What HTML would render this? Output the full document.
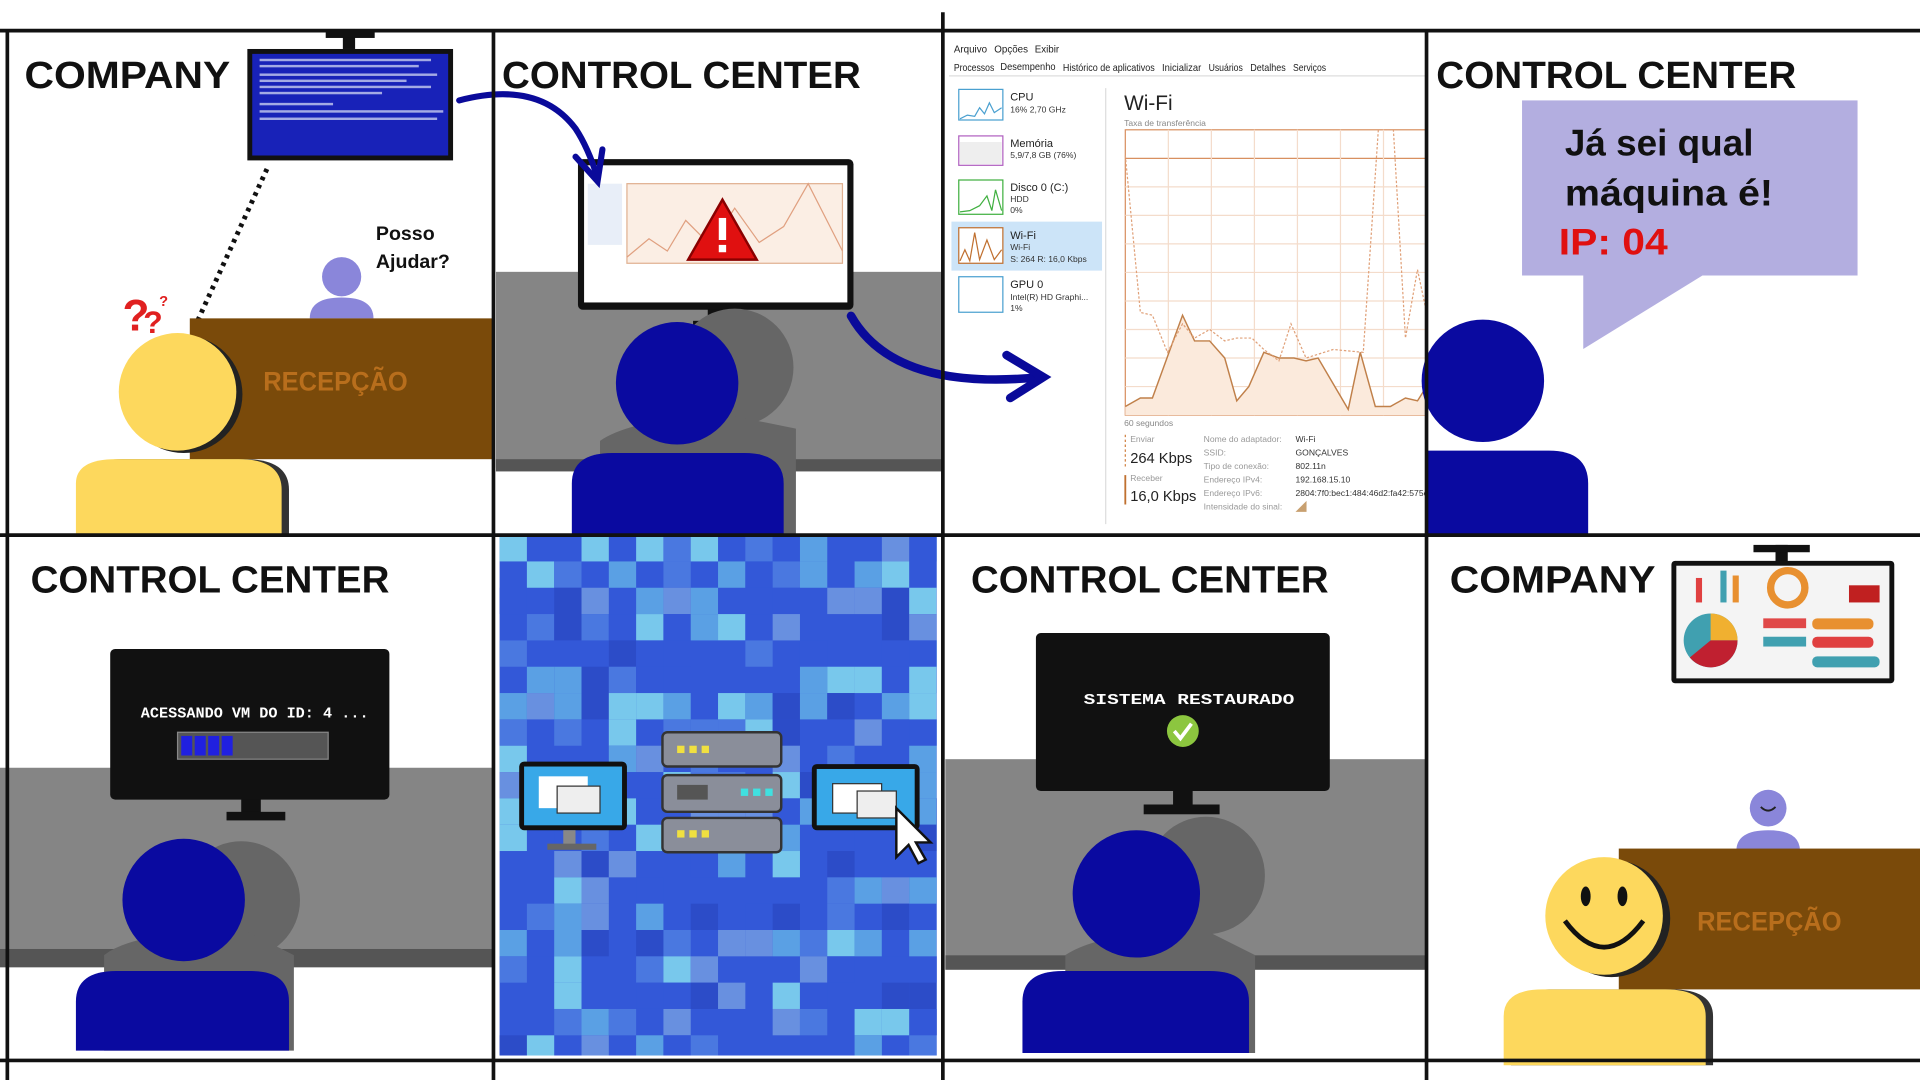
<!DOCTYPE html>
<html><head><meta charset="utf-8">
<style>
html,body{margin:0;padding:0;background:#fff;width:1920px;height:1080px;overflow:hidden}
svg{display:block}
text{font-family:"Liberation Sans",sans-serif}
.title{font-weight:bold;font-size:31px;fill:#111}
</style></head>
<body>
<svg id="comic" width="1920" height="1080" viewBox="0 0 1568 882" preserveAspectRatio="none">
<rect width="1568" height="882" fill="#fff"/>

<!-- PANEL 1 -->
<g>
  <text class="title" x="20" y="72" textLength="168" lengthAdjust="spacingAndGlyphs">COMPANY</text>
  <rect x="280" y="25" width="10" height="15" fill="#111"/>
  <rect x="266" y="25" width="40" height="6" fill="#111"/>
  <rect x="202" y="40" width="168" height="91" fill="#111"/>
  <rect x="206" y="44" width="160" height="83" fill="#1822b8"/>
  <g fill="#c8ccf0" opacity="0.8">
    <rect x="212" y="48" width="140" height="2"/><rect x="212" y="53" width="130" height="2"/>
    <rect x="212" y="60" width="145" height="2"/><rect x="212" y="65" width="120" height="2"/>
    <rect x="212" y="70" width="140" height="2"/><rect x="212" y="75" width="100" height="2"/>
    <rect x="212" y="84" width="60" height="2"/><rect x="212" y="90" width="150" height="2"/>
    <rect x="212" y="96" width="145" height="2"/>
  </g>
  <line x1="218" y1="138" x2="160" y2="265" stroke="#111" stroke-width="4" stroke-dasharray="3,4"/>
  <text x="307" y="196" font-size="16" font-weight="bold" fill="#111">Posso</text>
  <text x="307" y="219" font-size="16" font-weight="bold" fill="#111">Ajudar?</text>
  <circle cx="279" cy="226" r="16" fill="#8a86da"/>
  <path d="M253 260 Q253 243 279 243 Q305 243 305 260 Z" fill="#8a86da"/>
  <rect x="155" y="260" width="248" height="115" fill="#7a4a0a"/>
  <text x="274" y="319" font-size="22" font-weight="bold" fill="#b86e1c" text-anchor="middle" textLength="118" lengthAdjust="spacingAndGlyphs">RECEPÇÃO</text>
  <text x="100" y="270" font-size="36" font-weight="bold" fill="#e02020">?</text>
  <text x="117" y="272" font-size="26" font-weight="bold" fill="#e02020">?</text>
  <text x="130" y="250" font-size="12" font-weight="bold" fill="#e02020">?</text>
  <circle cx="150" cy="322" r="48" fill="#222"/>
  <circle cx="145" cy="320" r="48" fill="#fdd85d"/>
  <path d="M68 437 L68 395 Q68 375 100 375 L200 375 Q236 375 236 400 L236 437 Z" fill="#333"/>
  <path d="M62 437 L62 395 Q62 375 95 375 L195 375 Q230 375 230 400 L230 437 Z" fill="#fdd85d"/>
</g>

<!-- PANEL 2 -->
<g>
  <text class="title" x="410" y="72" textLength="293" lengthAdjust="spacingAndGlyphs">CONTROL CENTER</text>
  <rect x="405" y="222" width="365" height="160" fill="#858585"/>
  <rect x="405" y="375" width="365" height="10" fill="#555"/>
  <rect x="578" y="252" width="16" height="12" fill="#111"/>
  <rect x="566" y="262" width="40" height="6" fill="#111"/>
  <rect x="472" y="130" width="225" height="123" rx="4" fill="#111"/>
  <rect x="477" y="135" width="215" height="112" fill="#fff"/>
  <rect x="512" y="150" width="176" height="65" fill="#fbeee4" stroke="#e0b090"/>
  <polyline points="512,210 530,195 545,205 560,180 580,200 600,170 620,198 640,185 660,150 688,205" fill="none" stroke="#e0a080"/>
  <rect x="480" y="150" width="28" height="50" fill="#e8eef8"/>
  <path d="M590 163 L618 212 L562 212 Z" fill="#e01010" stroke="#8a0000" stroke-width="2"/>
  <rect x="587" y="178" width="6" height="18" fill="#fff"/><rect x="587" y="200" width="6" height="6" fill="#fff"/>
  <circle cx="600" cy="300" r="48" fill="#666"/>
  <path d="M490 437 L490 360 Q520 340 600 340 L650 350 L650 437 Z" fill="#666"/>
  <circle cx="553" cy="313" r="50" fill="#0a0aa0"/>
  <path d="M467 437 L467 395 Q467 370 500 370 L608 370 Q640 370 640 395 L640 437 Z" fill="#0a0aa0"/>
  <path d="M375 82 Q440 65 470 105 Q480 120 488 145" fill="none" stroke="#0a0a9a" stroke-width="5" stroke-linecap="round"/>
  <path d="M470 128 L488 148 L492 122" fill="none" stroke="#0a0a9a" stroke-width="5" stroke-linecap="round"/>
  <path d="M695 258 Q730 320 850 308" fill="none" stroke="#0a0a9a" stroke-width="7" stroke-linecap="round"/>
  <path d="M822 290 L852 308 L825 325" fill="none" stroke="#0a0a9a" stroke-width="7" stroke-linecap="round"/>
</g>

<!-- PANEL 3 task manager -->
<g>
  <g font-size="8" fill="#222">
    <text x="779" y="43">Arquivo</text><text x="812" y="43">Opções</text><text x="845" y="43">Exibir</text>
    <text x="779" y="58" textLength="33" lengthAdjust="spacingAndGlyphs">Processos</text><text x="817" y="57" textLength="45" lengthAdjust="spacingAndGlyphs">Desempenho</text><text x="868" y="58" textLength="75" lengthAdjust="spacingAndGlyphs">Histórico de aplicativos</text>
    <text x="949" y="58" textLength="32" lengthAdjust="spacingAndGlyphs">Inicializar</text><text x="987" y="58" textLength="28" lengthAdjust="spacingAndGlyphs">Usuários</text><text x="1021" y="58" textLength="29" lengthAdjust="spacingAndGlyphs">Detalhes</text><text x="1056" y="58" textLength="27" lengthAdjust="spacingAndGlyphs">Serviços</text>
  </g>
  <line x1="775" y1="62" x2="1165" y2="62" stroke="#ddd"/>
  <rect x="777" y="181" width="123" height="40" fill="#cce4f8"/>
  <g fill="#fff" stroke-width="1">
    <rect x="783" y="73" width="36" height="25" stroke="#4aa0d0"/>
    <rect x="783" y="111" width="36" height="24" stroke="#b060c0"/>
    <rect x="783" y="147" width="36" height="28" stroke="#40b040"/>
    <rect x="783" y="186" width="36" height="29" stroke="#c07030"/>
    <rect x="783" y="226" width="36" height="29" stroke="#4aa0d0"/>
  </g>
  <rect x="784" y="116" width="34" height="18" fill="#eee"/>
  <polyline points="784,97 790,94 796,95 800,88 804,93 808,84 812,92 818,88" fill="none" stroke="#4aa0d0"/>
  <polyline points="784,173 792,172 800,168 806,160 810,172 813,155 818,172" fill="none" stroke="#40b040"/>
  <polyline points="784,213 788,204 792,213 796,190 800,212 806,196 812,212 818,204" fill="none" stroke="#c07030"/>
  <g font-size="9" fill="#222">
    <text x="825" y="82">CPU</text><text x="825" y="120">Memória</text><text x="825" y="156">Disco 0 (C:)</text>
    <text x="825" y="195">Wi-Fi</text><text x="825" y="235">GPU 0</text>
  </g>
  <g font-size="7" fill="#333">
    <text x="825" y="92">16% 2,70 GHz</text><text x="825" y="129">5,9/7,8 GB (76%)</text>
    <text x="825" y="165">HDD</text><text x="825" y="174">0%</text>
    <text x="825" y="204">Wi-Fi</text><text x="825" y="214">S: 264 R: 16,0 Kbps</text>
    <text x="825" y="245">Intel(R) HD Graphi...</text><text x="825" y="254">1%</text>
  </g>
  <line x1="903" y1="72" x2="903" y2="428" stroke="#ddd"/>
  <text x="918" y="90" font-size="17" fill="#222">Wi-Fi</text>
  <text x="918" y="103" font-size="7" fill="#888">Taxa de transferência</text>
  <g id="wifi-chart"></g>
  <text x="918" y="348" font-size="7" fill="#888">60 segundos</text>
  <line x1="919" y1="355" x2="919" y2="383" stroke="#d08040" stroke-dasharray="2,2"/>
  <line x1="919" y1="388" x2="919" y2="412" stroke="#c07030" stroke-width="1.5"/>
  <g font-size="7" fill="#999"><text x="923" y="361">Enviar</text><text x="923" y="393">Receber</text>
    <text x="983" y="361">Nome do adaptador:</text><text x="983" y="372">SSID:</text><text x="983" y="383">Tipo de conexão:</text>
    <text x="983" y="394">Endereço IPv4:</text><text x="983" y="405">Endereço IPv6:</text><text x="983" y="416">Intensidade do sinal:</text></g>
  <text x="923" y="378" font-size="12" fill="#222">264 Kbps</text>
  <text x="923" y="409" font-size="12" fill="#222">16,0 Kbps</text>
  <g font-size="7" fill="#333"><text x="1058" y="361">Wi-Fi</text><text x="1058" y="372">GONÇALVES</text><text x="1058" y="383">802.11n</text>
    <text x="1058" y="394">192.168.15.10</text><text x="1058" y="405">2804:7f0:bec1:484:46d2:fa42:575e</text></g>
  <path d="M1058 418 L1067 418 L1067 409 Z" fill="#c8a070"/>
</g>

<!-- PANEL 4 -->
<g>
  <text class="title" x="1173" y="72" textLength="294" lengthAdjust="spacingAndGlyphs">CONTROL CENTER</text>
  <rect x="1243" y="82" width="274" height="143" fill="#b3aee0"/>
  <path d="M1293 224 L1293 285 L1392 224 Z" fill="#b3aee0"/>
  <text x="1278" y="127" font-size="30" font-weight="bold" fill="#111" textLength="154" lengthAdjust="spacingAndGlyphs">Já sei qual</text>
  <text x="1278" y="168" font-size="30" font-weight="bold" fill="#111" textLength="170" lengthAdjust="spacingAndGlyphs">máquina é!</text>
  <text x="1273" y="208" font-size="30" font-weight="bold" fill="#e01010" textLength="89" lengthAdjust="spacingAndGlyphs">IP: 04</text>
  <circle cx="1211" cy="311" r="50" fill="#0a0aa0"/>
  <path d="M1165 437 L1165 368 L1265 368 Q1297 368 1297 395 L1297 437 Z" fill="#0a0aa0"/>
</g>

<!-- PANEL 5 -->
<g>
  <text class="title" x="25" y="484" textLength="293" lengthAdjust="spacingAndGlyphs">CONTROL CENTER</text>
  <rect x="0" y="627" width="403" height="150" fill="#858585"/>
  <rect x="0" y="775" width="403" height="15" fill="#555"/>
  <rect x="197" y="652" width="16" height="12" fill="#111"/><rect x="185" y="663" width="48" height="7" fill="#111"/>
  <rect x="90" y="530" width="228" height="123" rx="4" fill="#111"/>
  <text x="208" y="586" font-size="12" fill="#fff" text-anchor="middle" font-weight="bold" textLength="186" lengthAdjust="spacingAndGlyphs" style="font-family:'Liberation Mono',monospace">ACESSANDO VM DO ID: 4 ...</text>
  <rect x="145" y="598" width="123" height="22" fill="#555" stroke="#888"/>
  <g fill="#2020e0"><rect x="148" y="601" width="9" height="16"/><rect x="159" y="601" width="9" height="16"/><rect x="170" y="601" width="9" height="16"/><rect x="181" y="601" width="9" height="16"/></g>
  <circle cx="197" cy="735" r="48" fill="#666"/>
  <path d="M85 858 L85 780 Q110 760 200 760 L240 780 L240 858 Z" fill="#666"/>
  <circle cx="150" cy="735" r="50" fill="#0a0aa0"/>
  <path d="M62 858 L62 818 Q62 793 95 793 L205 793 Q236 793 236 818 L236 858 Z" fill="#0a0aa0"/>
</g>

<!-- PANEL 6 -->
<g>
  <rect x="408" y="437" width="357" height="425" fill="#3358d8"/>
  <g id="pixels"></g>
  <g>
    <rect x="424" y="622" width="88" height="56" rx="4" fill="#111"/>
    <rect x="428" y="626" width="80" height="48" fill="#38a8e8"/>
    <rect x="440" y="634" width="40" height="26" fill="#fff"/><rect x="455" y="642" width="35" height="22" fill="#eee" stroke="#333"/>
    <rect x="460" y="678" width="10" height="12" fill="#888"/><rect x="447" y="689" width="40" height="5" fill="#666"/>
  </g>
  <g>
    <rect x="541" y="598" width="97" height="28" rx="4" fill="#8a8e9a" stroke="#333" stroke-width="2"/>
    <rect x="541" y="633" width="97" height="30" rx="4" fill="#8a8e9a" stroke="#333" stroke-width="2"/>
    <rect x="541" y="668" width="97" height="28" rx="4" fill="#8a8e9a" stroke="#333" stroke-width="2"/>
    <g fill="#f0e040"><rect x="553" y="609" width="6" height="6"/><rect x="563" y="609" width="6" height="6"/><rect x="573" y="609" width="6" height="6"/>
      <rect x="553" y="678" width="6" height="6"/><rect x="563" y="678" width="6" height="6"/><rect x="573" y="678" width="6" height="6"/></g>
    <g fill="#40e0e0"><rect x="605" y="644" width="6" height="6"/><rect x="615" y="644" width="6" height="6"/><rect x="625" y="644" width="6" height="6"/></g>
    <rect x="553" y="641" width="25" height="12" fill="#555"/>
  </g>
  <g>
    <rect x="663" y="624" width="88" height="54" rx="4" fill="#111"/>
    <rect x="667" y="628" width="80" height="46" fill="#38a8e8"/>
    <rect x="680" y="640" width="40" height="24" fill="#fff" stroke="#333"/><rect x="700" y="646" width="32" height="22" fill="#eee" stroke="#333"/>
    <path d="M732 660 L732 700 L742 690 L750 705 L756 702 L748 688 L760 688 Z" fill="#fff" stroke="#111" stroke-width="2"/>
  </g>
</g>

<!-- PANEL 7 -->
<g>
  <text class="title" x="793" y="484" textLength="292" lengthAdjust="spacingAndGlyphs">CONTROL CENTER</text>
  <rect x="772" y="620" width="393" height="160" fill="#858585"/>
  <rect x="772" y="780" width="393" height="12" fill="#555"/>
  <rect x="958" y="645" width="16" height="12" fill="#111"/><rect x="934" y="657" width="62" height="8" fill="#111"/>
  <rect x="846" y="517" width="240" height="129" rx="4" fill="#111"/>
  <text x="971" y="575" font-size="12" fill="#fff" text-anchor="middle" font-weight="bold" textLength="172" lengthAdjust="spacingAndGlyphs" style="font-family:'Liberation Mono',monospace">SISTEMA RESTAURADO</text>
  <circle cx="966" cy="597" r="13" fill="#8cc63f"/>
  <path d="M959 597 L964 603 L973 591" fill="none" stroke="#fff" stroke-width="3"/>
  <circle cx="985" cy="715" r="48" fill="#666"/>
  <path d="M870 860 L870 780 Q900 760 985 760 L1025 780 L1025 860 Z" fill="#666"/>
  <circle cx="928" cy="730" r="52" fill="#0a0aa0"/>
  <path d="M835 860 L835 818 Q835 793 868 793 L988 793 Q1020 793 1020 818 L1020 860 Z" fill="#0a0aa0"/>
</g>

<!-- PANEL 8 -->
<g>
  <text class="title" x="1184" y="484" textLength="168" lengthAdjust="spacingAndGlyphs">COMPANY</text>
  <rect x="1450" y="445" width="10" height="15" fill="#111"/><rect x="1432" y="445" width="46" height="6" fill="#111"/>
  <rect x="1365" y="458" width="182" height="100" rx="3" fill="#111"/>
  <rect x="1369" y="462" width="174" height="92" fill="#f4f4f4"/>
  <g fill="#e04040"><rect x="1385" y="472" width="5" height="20"/><rect x="1405" y="466" width="5" height="26" fill="#40a0b0"/><rect x="1415" y="470" width="5" height="22" fill="#e89030"/></g>
  <circle cx="1460" cy="480" r="14" fill="none" stroke="#e89030" stroke-width="6"/>
  <circle cx="1397" cy="523" r="22" fill="#40a0b0"/>
  <path d="M1397 523 L1397 501 A22 22 0 0 1 1419 523 Z" fill="#f0b030"/>
  <path d="M1397 523 L1419 523 A22 22 0 0 1 1380 537 Z" fill="#c02030"/>
  <g fill="#e04848"><rect x="1440" y="505" width="35" height="8"/><rect x="1440" y="520" width="35" height="8" fill="#40a0b0"/></g>
  <rect x="1480" y="505" width="50" height="9" rx="4" fill="#e89030"/><rect x="1480" y="520" width="50" height="9" rx="4" fill="#e04040"/>
  <rect x="1480" y="536" width="55" height="9" rx="4" fill="#40a0b0"/>
  <g fill="#c02020"><rect x="1510" y="478" width="25" height="14"/></g>
  <circle cx="1444" cy="660" r="15" fill="#8a86da"/>
  <path d="M1438 659 Q1444 665 1450 659" fill="none" stroke="#222" stroke-width="1.5"/>
  <path d="M1418 695 Q1418 678 1444 678 Q1470 678 1470 695 Z" fill="#8a86da"/>
  <rect x="1322" y="693" width="246" height="115" fill="#7a4a0a"/>
  <text x="1445" y="760" font-size="22" font-weight="bold" fill="#b86e1c" text-anchor="middle" textLength="118" lengthAdjust="spacingAndGlyphs">RECEPÇÃO</text>
  <circle cx="1316" cy="750" r="48" fill="#222"/>
  <circle cx="1310" cy="748" r="48" fill="#fdd85d"/>
  <ellipse cx="1295" cy="732" rx="4" ry="8" fill="#111"/><ellipse cx="1325" cy="732" rx="4" ry="8" fill="#111"/>
  <path d="M1278 752 Q1310 795 1342 752" fill="none" stroke="#111" stroke-width="4"/>
  <path d="M1234 870 L1234 830 Q1234 808 1265 808 L1365 808 Q1399 808 1399 830 L1399 870 Z" fill="#333"/>
  <path d="M1228 870 L1228 830 Q1228 808 1260 808 L1360 808 Q1393 808 1393 830 L1393 870 Z" fill="#fdd85d"/>
</g>

<!-- GRID LINES -->
<g stroke="#111" stroke-width="3">
  <line x1="0" y1="25" x2="1568" y2="25"/>
  <line x1="0" y1="437" x2="1568" y2="437"/>
  <line x1="0" y1="866" x2="1568" y2="866"/>
  <line x1="6" y1="25" x2="6" y2="882"/>
  <line x1="403" y1="25" x2="403" y2="882"/>
  <line x1="770" y1="10" x2="770" y2="882"/>
  <line x1="1165" y1="25" x2="1165" y2="882"/>
</g>
</svg>
<script>
// Wi-Fi throughput chart data (0-100 scale)
const recvX = [0,0.05,0.09,0.19,0.23,0.28,0.33,0.37,0.41,0.46,0.51,0.56,0.6,0.64,0.74,0.78,0.83,0.88,0.93,0.97,1.0];
const recvValues = [3,6,6,35,26,26,20,5,10,22,20,20,19,20,2,22,3,3,6,5,10];
const sendX = [0,0.05,0.09,0.14,0.19,0.23,0.28,0.33,0.37,0.42,0.46,0.51,0.55,0.6,0.69,0.79,0.84,0.89,0.93,0.97,1.0];
const sendValues = [91,36,35,22,32,27,30,26,27,27,23,19,32,20,23,22,100,100,27,51,36];

const NS = 'http://www.w3.org/2000/svg';
const cx0 = 919, cx1 = 1165, cy0 = 106, cy1 = 339;
function xs(f){ return cx0 + f*(cx1-cx0); }
function ys(v){ return cy1 - v/100*(cy1-cy0); }
const chart = document.getElementById('wifi-chart');
const bg = document.createElementNS(NS,'rect');
bg.setAttribute('x',cx0);bg.setAttribute('y',cy0);bg.setAttribute('width',cx1-cx0);bg.setAttribute('height',cy1-cy0);
bg.setAttribute('fill','#fff');bg.setAttribute('stroke','#d89060');


chart.appendChild(bg);
for(let i=1;i<10;i++){
  const l=document.createElementNS(NS,'line');
  const y=cy0+i*(cy1-cy0)/10;
  l.setAttribute('x1',cx0);l.setAttribute('x2',cx1);l.setAttribute('y1',y);l.setAttribute('y2',y);
  l.setAttribute('stroke', i===1?'#d89060':'#f4dccb');
  
  
  chart.appendChild(l);
}
for(let i=1;i<7;i++){
  const l=document.createElementNS(NS,'line');
  const x=cx0+i*(cx1-cx0)/7;
  l.setAttribute('x1',x);l.setAttribute('x2',x);l.setAttribute('y1',cy0);l.setAttribute('y2',cy1);
  l.setAttribute('stroke','#f4dccb');
  
  
  chart.appendChild(l);
}
let pts = recvX.map((f,i)=>xs(f)+','+ys(recvValues[i])).join(' ');
const area=document.createElementNS(NS,'polygon');
area.setAttribute('points', xs(0)+','+cy1+' '+pts+' '+xs(1)+','+cy1);
area.setAttribute('fill','#fbeadc');


chart.appendChild(area);
const rl=document.createElementNS(NS,'polyline');
rl.setAttribute('points',pts);rl.setAttribute('fill','none');rl.setAttribute('stroke','#c0804a');rl.setAttribute('stroke-width','1.2');


chart.appendChild(rl);
const sl=document.createElementNS(NS,'polyline');
sl.setAttribute('points',sendX.map((f,i)=>xs(f)+','+ys(sendValues[i])).join(' '));
sl.setAttribute('fill','none');sl.setAttribute('stroke','#e0a078');sl.setAttribute('stroke-dasharray','2,1.5');


chart.appendChild(sl);

// Decorative pixel background for panel 6
const pix = document.getElementById('pixels');
const cols = ['#3358d8','#4a78e0','#5aa0e4','#78c8ec','#2c4cc8','#6890e0'];
let seed = 7;
function rnd(){ seed = (seed*9301+49297)%233280; return seed/233280; }
for(let y=437;y<862;y+=21.5){
  for(let x=408;x<765;x+=22.3){
    const r=rnd();
    if(r<0.35) continue;
    const c=document.createElementNS(NS,'rect');
    c.setAttribute('x',x);c.setAttribute('y',y);
    c.setAttribute('width',Math.min(22.3,765-x));c.setAttribute('height',Math.min(21.5,862-y));
    c.setAttribute('fill',cols[Math.floor(rnd()*cols.length)]);
    
    
    pix.appendChild(c);
  }
}
</script>
</body></html>
